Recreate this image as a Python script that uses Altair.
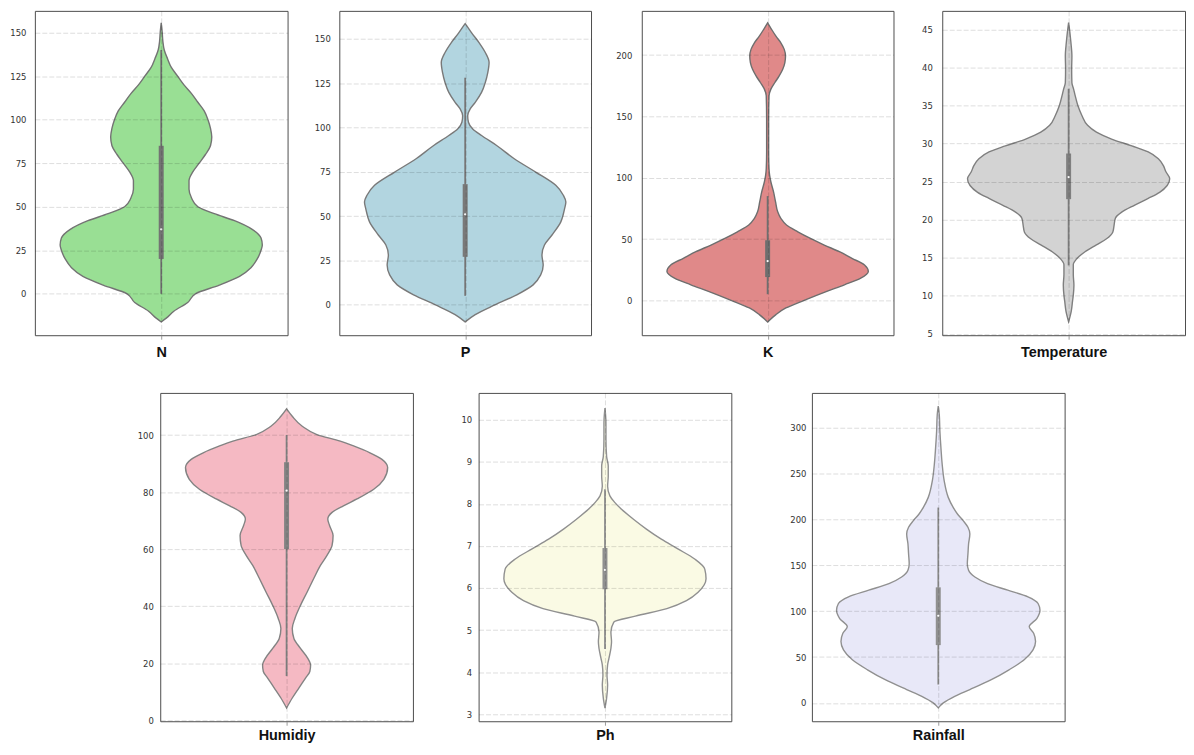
import altair as alt
import pandas as pd

# ---------------- data ----------------
# violin outlines: value levels and half-widths (fraction of panel half-width)
N_levels = [-16.2, -14, -10, -5, 0, 5, 10, 15, 20, 25, 28, 32, 37, 42, 46, 50, 55, 60, 65, 70, 75, 80, 85, 90, 95, 100,
            105, 110, 115, 120, 125, 130, 135, 140, 145, 150, 155.7]
N_widths = [0, 0.04, 0.10, 0.21, 0.27, 0.46, 0.62, 0.71, 0.76, 0.79, 0.80, 0.79, 0.72, 0.58, 0.42, 0.29, 0.24, 0.22, 0.22,
            0.25, 0.30, 0.35, 0.39, 0.40, 0.39, 0.37, 0.34, 0.29, 0.24, 0.18, 0.13, 0.08, 0.05, 0.024, 0.013, 0.008, 0]

P_levels = [-9.7, -5.6, 0, 5.6, 11.2, 16.8, 22.4, 28, 33.7, 39.3, 46.7, 54.2, 57.9, 61.7, 67.3, 74.8, 82.3, 89.8, 95.4,
            99.1, 102.9, 106.6, 110.4, 114.1, 119.7, 125.3, 131, 136.6, 142.2, 147.8, 153.4, 157.2, 158.5]
P_widths = [0, 0.08, 0.24, 0.41, 0.54, 0.60, 0.62, 0.61, 0.63, 0.69, 0.76, 0.79, 0.80, 0.78, 0.72, 0.56, 0.39, 0.25, 0.13,
            0.06, 0.026, 0.02, 0.04, 0.08, 0.13, 0.16, 0.18, 0.19, 0.16, 0.11, 0.05, 0.013, 0]

K_levels = [-17.6, -11.6, -6.2, 0, 7.3, 12.7, 18.1, 23.5, 28.9, 34.3, 39.7, 45.1, 50.5, 55.9, 61.4, 66.8, 72.2, 80.3, 88.4,
            96.5, 101.9, 107.3, 120.8, 147.8, 166.8, 172.2, 177.6, 183, 188.4, 193.8, 199.2, 204.6, 210, 215.4, 220.8, 226.2]
K_widths = [0, 0.066, 0.145, 0.29, 0.47, 0.61, 0.74, 0.80, 0.77, 0.67, 0.57, 0.45, 0.34, 0.24, 0.15, 0.105, 0.08, 0.063,
            0.047, 0.026, 0.016, 0.011, 0.008, 0.008, 0.011, 0.026, 0.058, 0.092, 0.12, 0.137, 0.142, 0.132, 0.105, 0.066,
            0.032, 0]

T_levels = [6.6, 8, 9.3, 10.1, 11.4, 12.8, 14.1, 14.9, 15.8, 16.7, 17.5, 18.4, 19.3, 20.2, 21, 21.9, 22.8, 23.6, 24.5, 25.4,
            26.3, 27.1, 28, 28.9, 29.7, 30.6, 31.5, 32.4, 33.7, 35, 36.3, 37.2, 38, 39.8, 41.5, 43.3, 44.6, 45.9]
T_widths = [0, 0.021, 0.031, 0.037, 0.042, 0.037, 0.037, 0.066, 0.13, 0.22, 0.30, 0.35, 0.36, 0.37, 0.42, 0.52, 0.63, 0.72,
            0.78, 0.80, 0.77, 0.75, 0.71, 0.63, 0.50, 0.34, 0.22, 0.15, 0.105, 0.073, 0.052, 0.039, 0.026, 0.024, 0.026,
            0.018, 0.01, 0]

H_levels = [4.3, 7.8, 11.3, 14.8, 17.1, 19.4, 21.7, 25.2, 28.7, 32.2, 35.7, 40.3, 45, 49.7, 54.3, 57.8, 61.3, 64.8, 68.3,
            70.6, 72.9, 75.2, 77.6, 81, 84.5, 88.6, 91.5, 93.8, 96.2, 97.9, 100.2, 103.1, 106.6, 109.2]
H_widths = [0, 0.045, 0.097, 0.15, 0.184, 0.19, 0.168, 0.11, 0.058, 0.045, 0.066, 0.11, 0.163, 0.215, 0.268, 0.32, 0.36,
            0.368, 0.34, 0.326, 0.36, 0.45, 0.557, 0.69, 0.77, 0.80, 0.755, 0.66, 0.53, 0.425, 0.24, 0.124, 0.045, 0]

Ph_levels = [3.14, 3.38, 3.69, 3.93, 4.17, 4.32, 4.56, 4.72, 4.95, 5.19, 5.33, 5.51, 5.70, 5.90, 6.22, 6.45, 6.69, 6.93,
             7.16, 7.40, 7.64, 7.87, 8.03, 8.19, 8.42, 8.66, 8.90, 9.13, 9.53, 9.92, 10.28]
Ph_widths = [0, 0.013, 0.021, 0.016, 0.021, 0.031, 0.047, 0.052, 0.047, 0.07, 0.24, 0.49, 0.645, 0.737, 0.80, 0.79, 0.71,
             0.577, 0.446, 0.328, 0.223, 0.131, 0.079, 0.039, 0.021, 0.026, 0.026, 0.013, 0.008, 0.008, 0]

R_levels = [-5.4, 0, 7.2, 14.5, 25.3, 36.1, 47, 57.8, 66.9, 75.9, 83, 92, 101, 108.4, 115.7, 122.9, 130.1, 137.3, 144.6,
            151.8, 162.6, 173.5, 184.3, 191.5, 198.8, 206, 213.2, 224.1, 242.1, 260.2, 278.3, 296.3, 314.4, 323.5]
R_widths = [0, 0.04, 0.13, 0.25, 0.42, 0.56, 0.68, 0.75, 0.77, 0.755, 0.72, 0.78, 0.805, 0.79, 0.71, 0.55, 0.39, 0.29, 0.24,
            0.23, 0.235, 0.24, 0.25, 0.235, 0.197, 0.152, 0.118, 0.079, 0.047, 0.031, 0.021, 0.013, 0.008, 0]

# inner box: [whisker low, Q1, median, Q3, whisker high]
N_box = [0, 20, 37, 85, 140]
P_box = [5, 27, 51, 68, 128]
K_box = [5, 19, 32, 49, 85]
T_box = [14, 22.7, 25.6, 28.7, 37.2]
H_box = [15.5, 60, 80.5, 90.5, 100]
Ph_box = [4.55, 5.97, 6.43, 6.95, 8.35]
R_box = [20, 63, 95, 126, 213]

# axis ticks
N_ticks = [0, 25, 50, 75, 100, 125, 150]
P_ticks = [0, 25, 50, 75, 100, 125, 150]
K_ticks = [0, 50, 100, 150, 200]
T_ticks = [5, 10, 15, 20, 25, 30, 35, 40, 45]
H_ticks = [0, 20, 40, 60, 80, 100]
Ph_ticks = [3, 4, 5, 6, 7, 8, 9, 10]
R_ticks = [0, 50, 100, 150, 200, 250, 300]

titles = ["N", "P", "K", "Temperature", "Humidiy", "Ph", "Rainfall"]

GRID = dict(gridColor="#000000", gridOpacity=0.17, gridDash=[5, 2], gridWidth=0.8)


def panel(levels, widths, stats, ticks, title, fill, edge, ydom, width, height, ext, lpad, tpad, xdom=(-1, 1)):
    xs = alt.Scale(domain=list(xdom), nice=False, zero=False)
    ys = alt.Scale(domain=list(ydom), nice=False, zero=False)
    xaxis = alt.Axis(values=[0], labels=False, ticks=True, tickSize=4, tickColor="#9a9a9a", tickWidth=1,
                     grid=True, domain=False, title=title, titlePadding=tpad, zindex=1, **GRID)
    yaxis = alt.Axis(values=ticks, grid=True, ticks=False, tickSize=0, domain=False, labelPadding=lpad,
                     minExtent=ext, maxExtent=ext, title=None, zindex=1, **GRID)
    df = pd.DataFrame({"v": levels, "w": widths})
    area = (alt.Chart(df)
            .transform_calculate(lo="-datum.w")
            .mark_area(orient="horizontal", interpolate="monotone", fill=fill, fillOpacity=1,
                       stroke=edge, strokeWidth=1.4)
            .encode(y=alt.Y("v:Q", scale=ys, axis=yaxis),
                    x=alt.X("lo:Q", scale=xs, axis=xaxis),
                    x2="w:Q"))
    sdf = pd.DataFrame({"c": [0], "lo": [stats[0]], "q1": [stats[1]], "med": [stats[2]],
                        "q3": [stats[3]], "hi": [stats[4]]})
    sb = alt.Chart(sdf)
    whisk = sb.mark_rule(color=edge, strokeWidth=1.8).encode(
        x=alt.X("c:Q", scale=xs, axis=xaxis), y=alt.Y("lo:Q", scale=ys, axis=yaxis), y2="hi:Q")
    box = sb.mark_rule(color=edge, strokeWidth=5, strokeCap="butt").encode(
        x=alt.X("c:Q", scale=xs, axis=xaxis), y=alt.Y("q1:Q", scale=ys, axis=yaxis), y2="q3:Q")
    med = sb.mark_circle(color="white", size=5, opacity=1).encode(
        x=alt.X("c:Q", scale=xs, axis=xaxis), y=alt.Y("med:Q", scale=ys, axis=yaxis))
    return alt.layer(area, whisk, box, med).properties(width=width, height=height)


pN = panel(N_levels, N_widths, N_box, N_ticks, titles[0], "#99df94", "#737373", (-23.8, 162.5), 254, 326, 26, 9, 6)
pP = panel(P_levels, P_widths, P_box, P_ticks, titles[1], "#b2d5e0", "#797979", (-17.2, 165.7), 253, 326, 30, 9, 6)
pK = panel(K_levels, K_widths, K_box, K_ticks, titles[2], "#e08989", "#6e6e6e", (-28.4, 236.0), 253, 326, 29, 10, 6)
pT = panel(T_levels, T_widths, T_box, T_ticks, titles[3], "#d3d3d3", "#7f7f7f", (4.83, 47.44), 244, 326, 27, 10, 6,
           xdom=(-1, 0.921))
pH = panel(H_levels, H_widths, H_box, H_ticks, titles[4], "#f5b9c3", "#838383", (-0.35, 114.8), 254, 330, 30, 7, 3)
pPh = panel(Ph_levels, Ph_widths, Ph_box, Ph_ticks, titles[5], "#fafae4", "#909090", (2.83, 10.64), 254, 330, 30, 7, 3)
pR = panel(R_levels, R_widths, R_box, R_ticks, titles[6], "#e8e8f8", "#909090", (-20.0, 338.0), 254, 330, 45, 6, 3)

# empty spacer that shifts the second row to the right
spacer = (alt.Chart(pd.DataFrame({"s": [0]}))
          .mark_point(opacity=0, size=1)
          .encode(x=alt.X("s:Q", axis=None, scale=alt.Scale(domain=[-1, 1])),
                  y=alt.Y("s:Q", axis=None, scale=alt.Scale(domain=[-1, 1])))
          .properties(width=60, height=330, view=alt.ViewBackground(stroke="transparent")))

top = alt.hconcat(pN, pP, pK, pT, spacing=20)
bottom = alt.hconcat(spacer, pH, pPh, pR, spacing=34)

chart = (alt.vconcat(top, bottom, spacing=32)
         .properties(padding={"left": 0, "top": 0, "right": 0, "bottom": 0})
         .configure_view(stroke="#4d4d4d", strokeWidth=1)
         .configure_axis(labelFont="DejaVu Sans", labelFontSize=8.5, labelColor="#333333",
                         titleFont="Liberation Sans", titleFontSize=14.5, titleFontWeight="bold",
                         titleColor="#111111"))

chart.save("out.html", embed_options={"renderer": "svg", "actions": False})
